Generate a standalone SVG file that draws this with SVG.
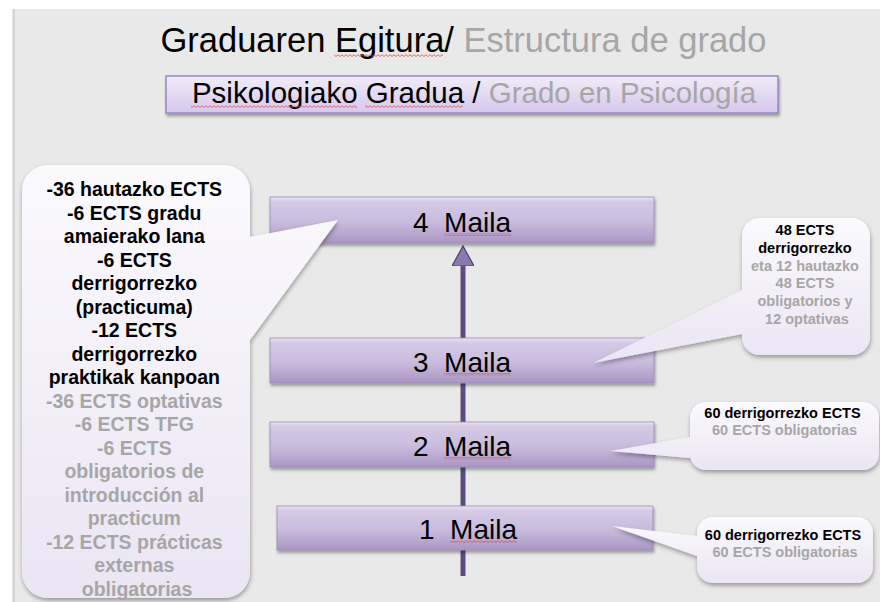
<svg xmlns="http://www.w3.org/2000/svg" width="880" height="602" viewBox="0 0 880 602">
<style>
text{font-family:"Liberation Sans",Arial,Helvetica,sans-serif}
.bt{font-size:28px;fill:#000;text-anchor:middle}
.cl{font-weight:bold;text-anchor:middle}
.L{font-size:19.5px}
.S{font-size:14.5px}
.k{fill:#000}
.g{fill:#a6a6a6}
.bar{fill:url(#barG);stroke:#9a88b5;stroke-width:0.8;filter:url(#sh)}
.call{fill:url(#callG);filter:url(#sh2)}
.sq{fill:url(#wave)}
</style>
<defs>
<linearGradient id="barG" x1="0" y1="0" x2="0" y2="1">
<stop offset="0" stop-color="#ece5f4"/>
<stop offset="0.1" stop-color="#d6cae6"/>
<stop offset="0.55" stop-color="#c9bbdd"/>
<stop offset="1" stop-color="#a996c3"/>
</linearGradient>
<linearGradient id="subG" x1="0" y1="0" x2="0" y2="1">
<stop offset="0" stop-color="#f1ecf8"/>
<stop offset="1" stop-color="#d6c7ec"/>
</linearGradient>
<linearGradient id="callG" x1="0" y1="0" x2="0" y2="1">
<stop offset="0" stop-color="#fbfafd"/>
<stop offset="1" stop-color="#ebe5f4"/>
</linearGradient>
<filter id="sh" x="-5%" y="-20%" width="112%" height="160%">
<feDropShadow dx="1" dy="2.5" stdDeviation="1.8" flood-color="#000" flood-opacity="0.35"/>
</filter>
<filter id="sh2" x="-10%" y="-10%" width="125%" height="125%">
<feDropShadow dx="0.5" dy="2.5" stdDeviation="2.2" flood-color="#000" flood-opacity="0.35"/>
</filter>
<pattern id="wave" width="4" height="3" patternUnits="userSpaceOnUse">
<path d="M0,2.5 L2,0.7 L4,2.5" fill="none" stroke="#e0474c" stroke-width="0.8"/>
</pattern>
<marker id="ah" viewBox="0 0 22 22" refX="2" refY="11" markerWidth="22" markerHeight="22" markerUnits="userSpaceOnUse" orient="auto">
<path d="M0,0 L20,11 L0,22 Z" fill="#8b78ae" stroke="#4f3f6d" stroke-width="1.2"/>
</marker>
</defs>

<rect x="0" y="0" width="880" height="602" fill="#ffffff"/>
<rect x="13" y="9" width="867" height="593" fill="#e9e9e9"/>
<line x1="13.5" y1="9" x2="13.5" y2="602" stroke="#cfcfcf" stroke-width="2"/>

<g id="title">
<text x="463.5" y="52" font-size="34.5" text-anchor="middle"><tspan fill="#000">Graduaren Egitura/</tspan><tspan fill="#a6a6a6"> Estructura de grado</tspan></text>
<rect class="sq" x="334" y="54" width="109" height="3"/>
</g>

<g id="subtitle">
<rect x="166" y="76" width="612" height="37" fill="url(#subG)" stroke="#9b86c4" stroke-width="1.5" filter="url(#sh)"/>
<text x="474" y="103" font-size="29.5" text-anchor="middle"><tspan fill="#000">Psikologiako Gradua /</tspan><tspan fill="#a6a6a6"> Grado en Psicología</tspan></text>
<rect class="sq" x="191" y="105" width="166" height="3"/>
<rect class="sq" x="365" y="105" width="98" height="3"/>
</g>

<g id="connectors">
<line x1="463" y1="576" x2="463" y2="264" stroke="#5e4c7f" stroke-width="5" marker-end="url(#ah)"/>
</g>

<g id="maila4">
<rect class="bar" x="270" y="197" width="384" height="46"/>
<text class="bt" x="462" y="232" xml:space="preserve">4  Maila</text>
<rect class="sq" x="444" y="233" width="67" height="3"/>
</g>
<g id="maila3">
<rect class="bar" x="270" y="338" width="384" height="45"/>
<text class="bt" x="462" y="372" xml:space="preserve">3  Maila</text>
<rect class="sq" x="444" y="373" width="67" height="3"/>
</g>
<g id="maila2">
<rect class="bar" x="270" y="422" width="384" height="45"/>
<text class="bt" x="462" y="456" xml:space="preserve">2  Maila</text>
<rect class="sq" x="444" y="457" width="67" height="3"/>
</g>
<g id="maila1">
<rect class="bar" x="277" y="506" width="376" height="44"/>
<text class="bt" x="468" y="539" xml:space="preserve">1  Maila</text>
<rect class="sq" x="450" y="540" width="67" height="3"/>
</g>

<g id="callout-left">
<path class="call" d="M48,165 H224 A26,26 0 0 1 250,191 V237 L338,220 L250,340 V572 A26,26 0 0 1 224,598 H48 A26,26 0 0 1 22,572 V191 A26,26 0 0 1 48,165 Z"/>
<text class="cl L" x="137" y="196">
<tspan class="k" x="137" dy="0">-36 hautazko ECTS</tspan>
<tspan class="k" x="137" dy="23.5">-6 ECTS gradu</tspan>
<tspan class="k" x="137" dy="23.5">amaierako lana</tspan>
<tspan class="k" x="137" dy="23.5">-6 ECTS</tspan>
<tspan class="k" x="137" dy="23.5">derrigorrezko</tspan>
<tspan class="k" x="137" dy="23.5">(practicuma)</tspan>
<tspan class="k" x="137" dy="23.5">-12 ECTS</tspan>
<tspan class="k" x="137" dy="23.5">derrigorrezko</tspan>
<tspan class="k" x="137" dy="23.5">praktikak kanpoan</tspan>
<tspan class="g" x="137" dy="23.5">-36 ECTS optativas</tspan>
<tspan class="g" x="137" dy="23.5">-6 ECTS TFG</tspan>
<tspan class="g" x="137" dy="23.5">-6 ECTS</tspan>
<tspan class="g" x="137" dy="23.5">obligatorios de</tspan>
<tspan class="g" x="137" dy="23.5">introducción al</tspan>
<tspan class="g" x="137" dy="23.5">practicum</tspan>
<tspan class="g" x="137" dy="23.5">-12 ECTS prácticas</tspan>
<tspan class="g" x="137" dy="23.5">externas</tspan>
<tspan class="g" x="137" dy="23.5">obligatorias</tspan>
</text>
</g>

<g id="callout-3">
<path class="call" d="M760,218 H852 A18,18 0 0 1 870,236 V337 A18,18 0 0 1 852,355 H760 A18,18 0 0 1 742,337 V334 L593,363 L742,290 V236 A18,18 0 0 1 760,218 Z"/>
<text class="cl S" x="807" y="235">
<tspan class="k" x="807" dy="0">48 ECTS</tspan>
<tspan class="k" x="807" dy="17.8">derrigorrezko</tspan>
<tspan class="g" x="807" dy="17.8">eta 12 hautazko</tspan>
<tspan class="g" x="807" dy="17.8">48 ECTS</tspan>
<tspan class="g" x="807" dy="17.8">obligatorios y</tspan>
<tspan class="g" x="807" dy="17.8">12 optativas</tspan>
</text>
</g>

<g id="callout-2">
<path class="call" d="M706,402 H863 A16,16 0 0 1 879,418 V454 A16,16 0 0 1 863,470 H706 A16,16 0 0 1 690,454 V458 L610,451 L690,437 V418 A16,16 0 0 1 706,402 Z"/>
<text class="cl S" x="784.5" y="418">
<tspan class="k" x="784.5" dy="0">60 derrigorrezko ECTS</tspan>
<tspan class="g" x="784.5" dy="17">60 ECTS obligatorias</tspan>
</text>
</g>

<g id="callout-1">
<path class="call" d="M713,517 H857 A16,16 0 0 1 873,533 V567 A16,16 0 0 1 857,583 H713 A16,16 0 0 1 697,567 V556 L612,526 L697,536 V533 A16,16 0 0 1 713,517 Z"/>
<text class="cl S" x="785" y="540">
<tspan class="k" x="785" dy="0">60 derrigorrezko ECTS</tspan>
<tspan class="g" x="785" dy="17">60 ECTS obligatorias</tspan>
</text>
</g>
</svg>
